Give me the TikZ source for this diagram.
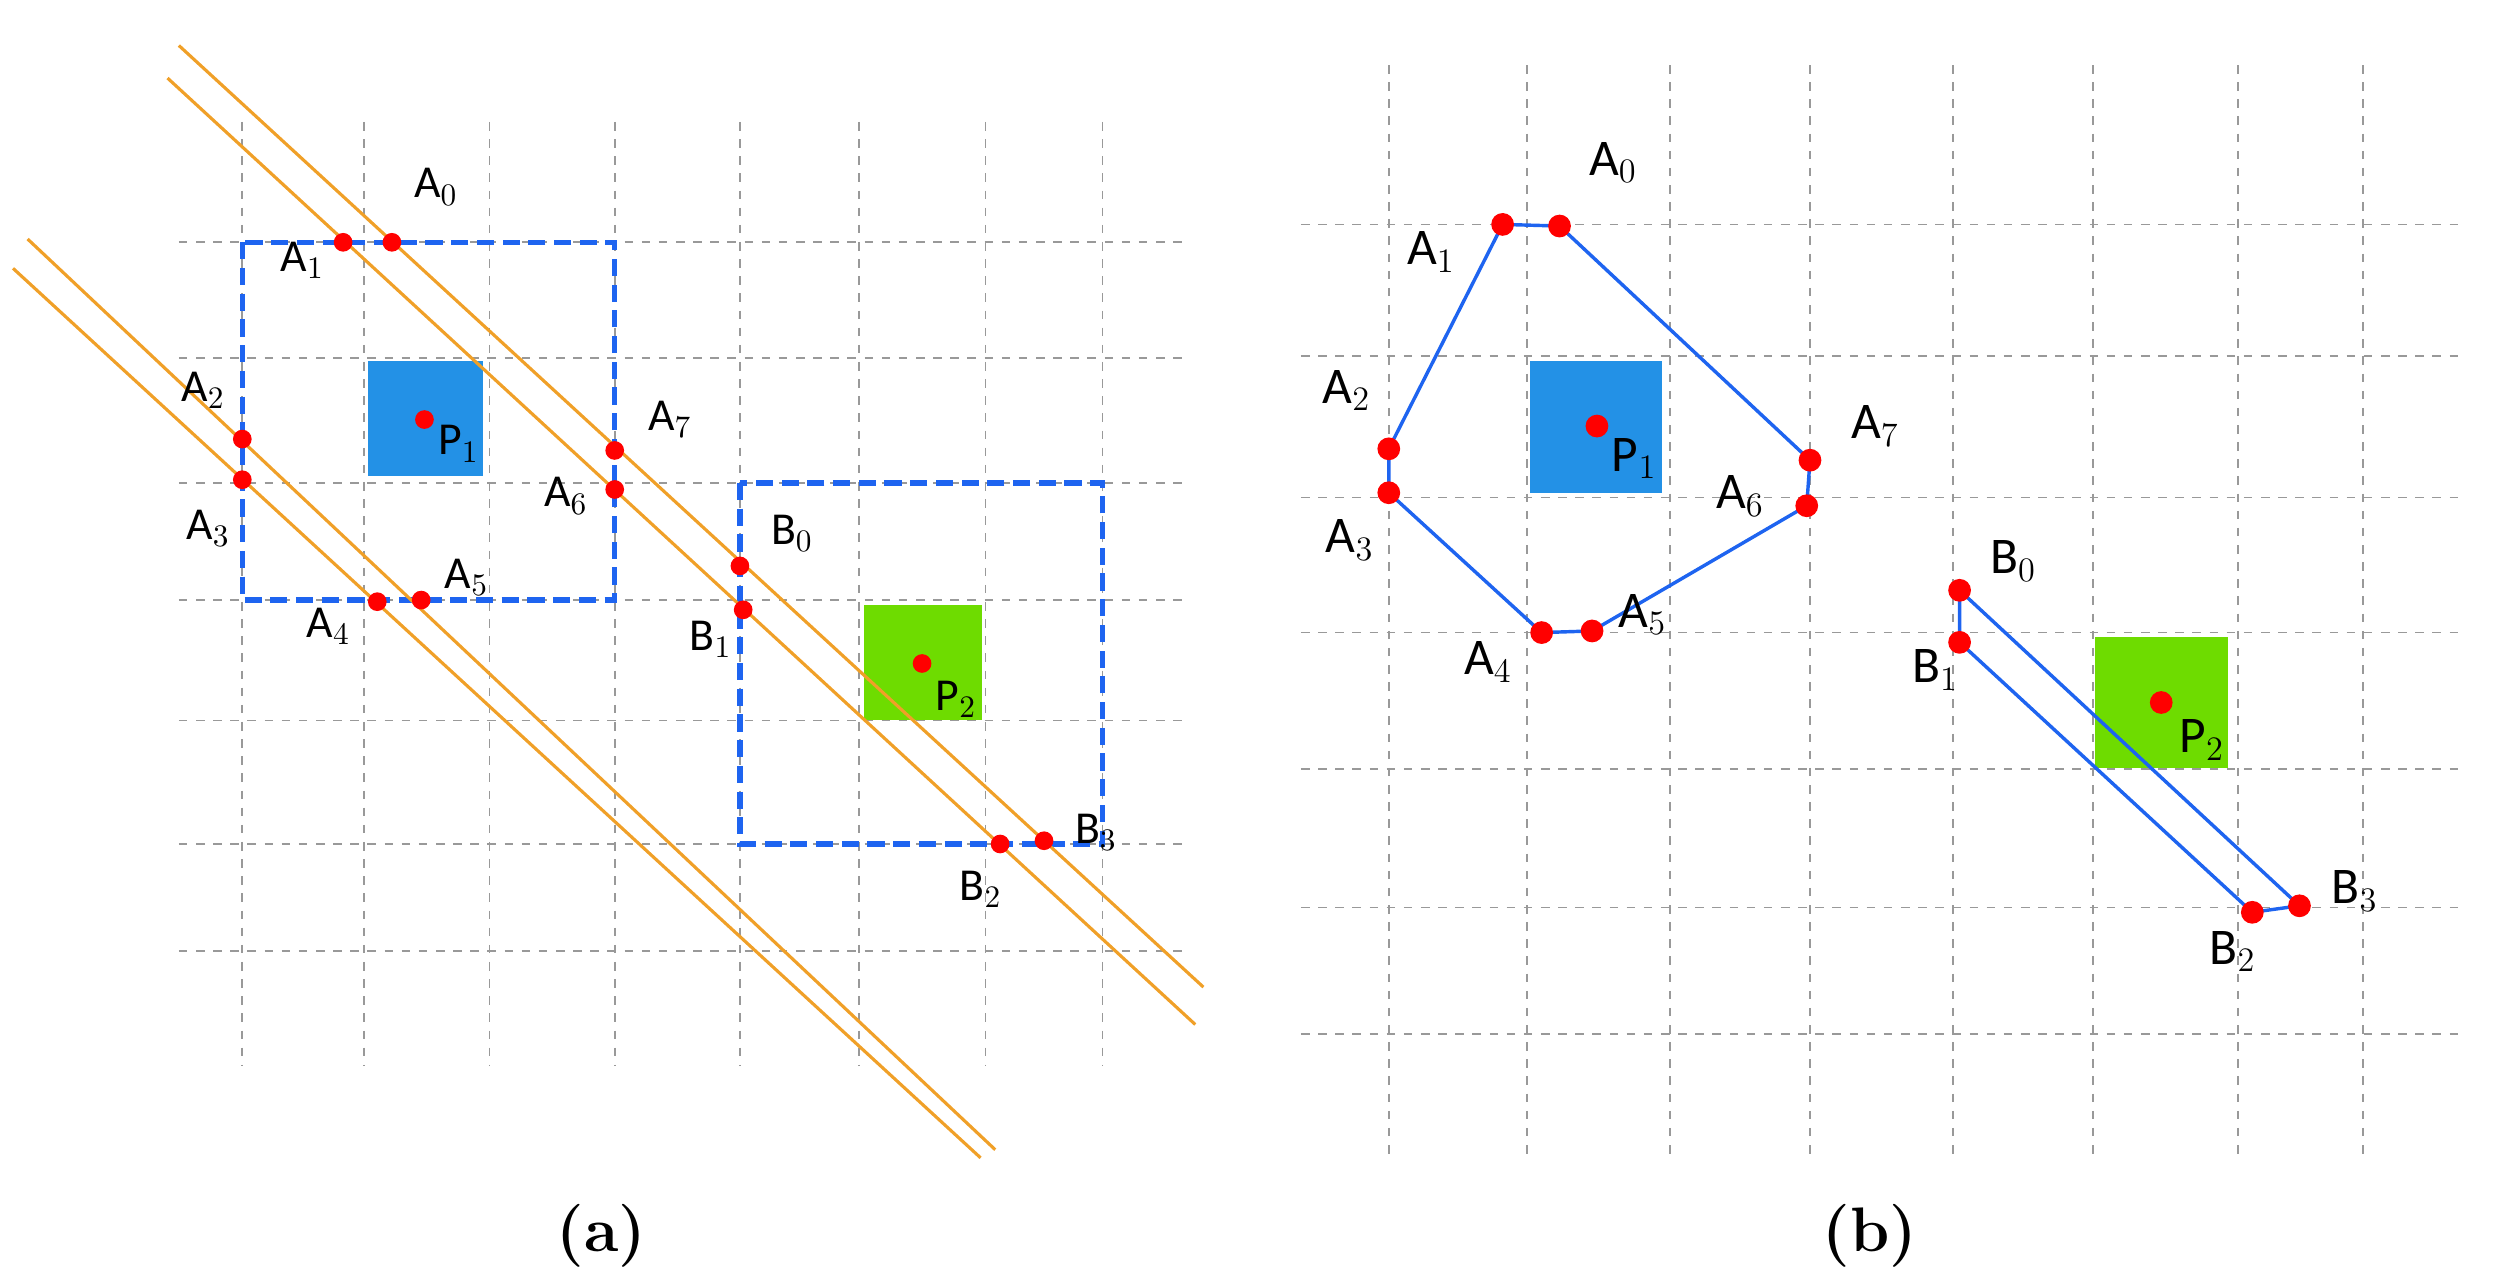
\documentclass[tikz,border=0pt]{standalone}
\usepackage{fontspec}
\newfontfamily\labfont{Carlito}
\begin{document}
\begin{tikzpicture}[x=0.02cm,y=-0.02cm,
 grid/.style={gray!80,dashed,line width=0.6pt},
 orl/.style={draw={rgb,255:red,240;green,160;blue,40},line width=1.1pt},
 dbox/.style={draw={rgb,255:red,30;green,100;blue,240},dash pattern=on 6pt off 3pt,line width=1.8pt},
 poly/.style={draw={rgb,255:red,30;green,100;blue,240},line width=1.2pt},
 dot/.style={circle,fill=red,inner sep=0pt,minimum size=0.23cm},
 dotb/.style={circle,fill=red,inner sep=0pt,minimum size=0.28cm},
 lab/.style={font=\labfont\fontsize{16}{18}\selectfont,inner sep=0pt},
 labb/.style={font=\labfont\fontsize{18}{20}\selectfont,inner sep=0pt},
 captxt/.style={font=\fontsize{22}{26}\selectfont\bfseries}]
\useasboundingbox (0,0) rectangle (1549,786);
\definecolor{sqblue}{RGB}{35,145,230}
\definecolor{sqgreen}{RGB}{110,220,0}
% ---- panel (a) grid
\foreach \x in {149,224,301,378,455,528,606,678} \draw[grid] (\x,75) -- (\x,655);
\foreach \y in {149,220,297,369,443,519,585} \draw[grid] (110,\y) -- (730,\y);
\fill[sqblue] (226,222) rectangle (297,293);
\fill[sqgreen] (531,372) rectangle (604,443);
\draw[dbox] (149,149) rectangle (378,369);
\draw[dbox] (455,297) rectangle (678,519);
\coordinate (l1a) at (110,28); \coordinate (l1b) at (740,607);
\coordinate (l2a) at (103,48); \coordinate (l2b) at (735,630);
\coordinate (l3a) at (17,147); \coordinate (l3b) at (612,707);
\coordinate (l4a) at (8,165); \coordinate (l4b) at (603,712);
\draw[orl] (l1a) -- (l1b); \draw[orl] (l2a) -- (l2b);
\draw[orl] (l3a) -- (l3b); \draw[orl] (l4a) -- (l4b);
\foreach \n/\x/\y in {a0/241/149,a1/211/149,a2/149/270,a3/149/295,a4/232/370,a5/259/369,a6/378/301,a7/378/277,b0/455/348,b1/457/375,b2/615/519,b3/642/517,p1/261/258,p2/567/408}
  \node[dot] (\n) at (\x,\y) {};
\node[lab] (ta0) at (268,115) {A$_0$};
\node[lab] (ta1) at (186,160) {A$_1$};
\node[lab] (ta2) at (125,240) {A$_2$};
\node[lab] (ta3) at (128,325) {A$_3$};
\node[lab] (ta4) at (202,385) {A$_4$};
\node[lab] (ta5) at (287,355) {A$_5$};
\node[lab] (ta6) at (348,305) {A$_6$};
\node[lab] (ta7) at (412,258) {A$_7$};
\node[lab] (tb0) at (487,328) {B$_0$};
\node[lab] (tb1) at (437,393) {B$_1$};
\node[lab] (tb2) at (603,547) {B$_2$};
\node[lab] (tb3) at (674,512) {B$_3$};
\node[lab] (tp1) at (282,273) {P$_1$};
\node[lab] (tp2) at (588,430) {P$_2$};
\node[captxt] (ca) at (370,760) {(a)};
% ---- panel (b)
\foreach \x in {854,939,1027,1113,1201,1287,1376,1453} \draw[grid] (\x,40) -- (\x,712);
\foreach \y in {138,219,306,389,473,558,636} \draw[grid] (800,\y) -- (1515,\y);
\fill[sqblue] (941,222) rectangle (1022,303);
\fill[sqgreen] (1288,392) rectangle (1370,472);
\foreach \n/\x/\y in {A0/959/139,A1/924/138,A2/854/276,A3/854/303,A4/948/389,A5/979/388,A6/1111/311,A7/1113/283,B0/1205/363,B1/1205/395,B2/1385/561,B3/1414/557}
  \coordinate (\n) at (\x,\y);
\draw[poly] (A0) -- (A1) -- (A2) -- (A3) -- (A4) -- (A5) -- (A6) -- (A7) -- cycle;
\draw[poly] (B0) -- (B1) -- (B2) -- (B3) -- cycle;
\foreach \n in {A0,A1,A2,A3,A4,A5,A6,A7,B0,B1,B2,B3} \node[dotb] (d\n) at (\n) {};
\node[dotb] (P1) at (982,262) {};
\node[dotb] (P2) at (1329,432) {};
\node[labb] (tA0) at (992,100) {A$_0$};
\node[labb] (tA1) at (880,155) {A$_1$};
\node[labb] (tA2) at (828,240) {A$_2$};
\node[labb] (tA3) at (830,332) {A$_3$};
\node[labb] (tA4) at (915,407) {A$_4$};
\node[labb] (tA5) at (1010,378) {A$_5$};
\node[labb] (tA6) at (1070,305) {A$_6$};
\node[labb] (tA7) at (1153,262) {A$_7$};
\node[labb] (tB0) at (1238,345) {B$_0$};
\node[labb] (tB1) at (1190,412) {B$_1$};
\node[labb] (tB2) at (1373,585) {B$_2$};
\node[labb] (tB3) at (1448,548) {B$_3$};
\node[labb] (tP1) at (1005,282) {P$_1$};
\node[labb] (tP2) at (1354,455) {P$_2$};
\node[captxt] (cb) at (1150,760) {(b)};
\end{tikzpicture}
\end{document}
